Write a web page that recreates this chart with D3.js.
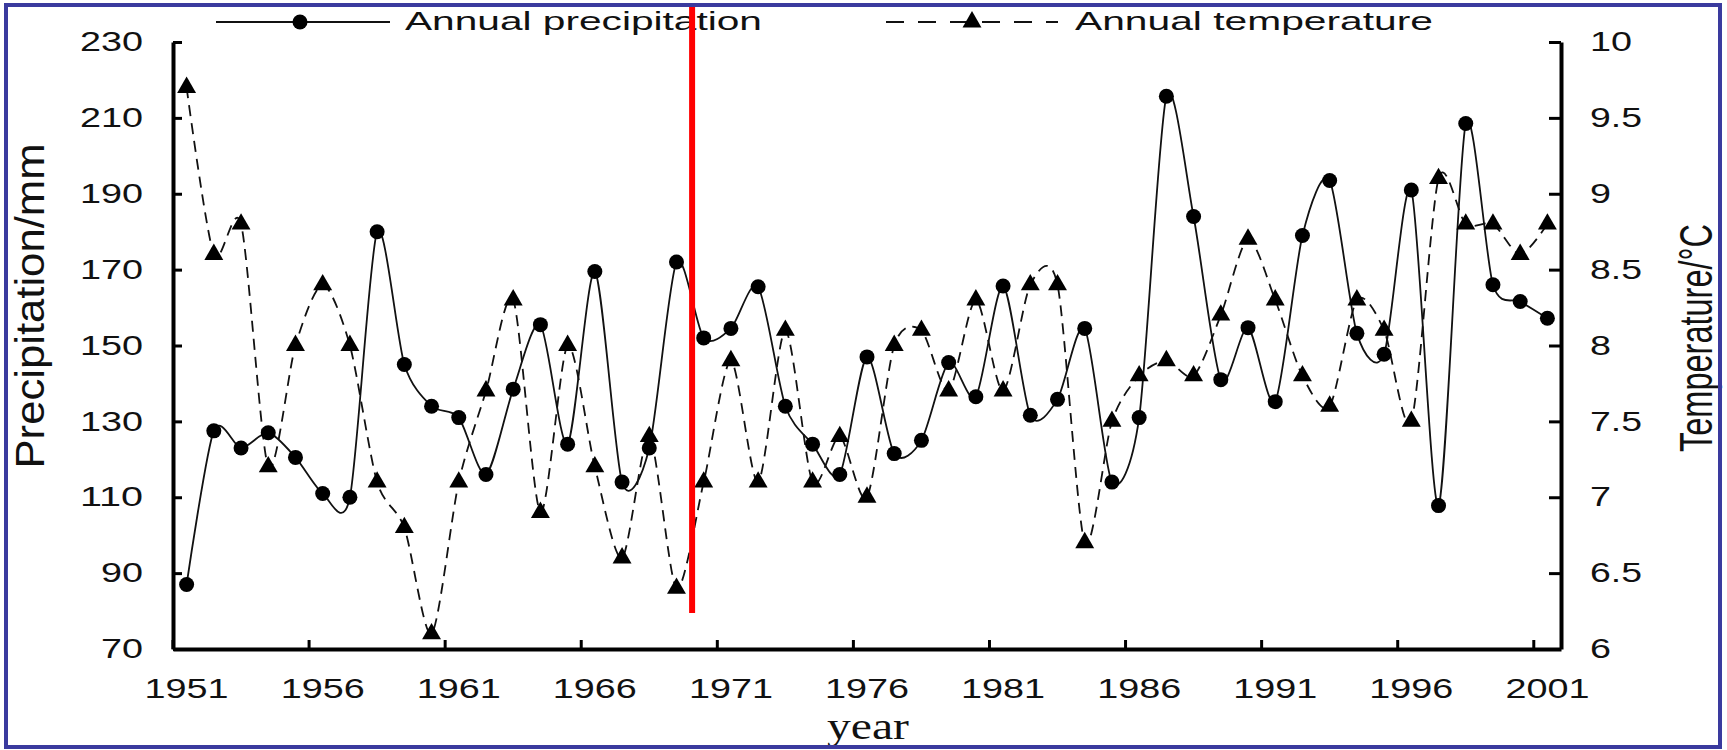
<!DOCTYPE html>
<html>
<head>
<meta charset="utf-8">
<script src="https://cdn.jsdelivr.net/npm/d3@7"></script>
<style>
  body { margin: 0; background: #fff; }
</style>
</head>
<body>
<div id="container"></div>
<script>
// window size
const cwW = 1727;
const cwH = 750;

// data
const years = ["1951","1952","1953","1954","1955","1956","1957","1958","1959","1960",
               "1961","1962","1963","1964","1965","1966","1967","1968","1969","1970",
               "1971","1972","1973","1974","1975","1976","1977","1978","1979","1980",
               "1981","1982","1983","1984","1985","1986","1987","1988","1989","1990",
               "1991","1992","1993","1994","1995","1996","1997","1998","1999","2000","2001"];
const precipitation = [87,127.5,123,127,120.5,111,110,180,145,134,
                       131,116,138.5,155.5,124,169.5,114,123,172,152,
                       154.5,165.5,134,124,116,147,121.5,125,145.5,136.5,
                       165.7,131.6,135.8,154.5,114,131,215.7,184,141,154.7,
                       135.2,179,193.5,153.2,147.7,191,107.8,208.5,166,161.6,157.2];
const temperature = [9.7,8.6,8.8,7.2,8.0,8.4,8.0,7.1,6.8,6.1,
                     7.1,7.7,8.3,6.9,8.0,7.2,6.6,7.4,6.4,7.1,
                     7.9,7.1,8.1,7.1,7.4,7.0,8.0,8.1,7.7,8.3,
                     7.7,8.4,8.4,6.7,7.5,7.8,7.9,7.8,8.2,8.7,
                     8.3,7.8,7.6,8.3,8.1,7.5,9.1,8.8,8.8,8.6,8.8];
const yearTicks = ["1951","1956","1961","1966","1971","1976","1981","1986","1991","1996","2001"];
const precipTicks = [70,90,110,130,150,170,190,210,230];
const tempTicks = [6,6.5,7,7.5,8,8.5,9,9.5,10];
const breakYear = "1970";

const sans = "'Liberation Sans', Arial, sans-serif";
const serif = "'Liberation Serif', 'Times New Roman', serif";

// plot box
const pLeft = 173, pRight = 1561, pTop = 42, pBottom = 649;

let svgArea = d3.select("#container").append("svg")
  .attr("width", cwW)
  .attr("height", cwH);

svgArea.append("rect").attr("width", cwW).attr("height", cwH).attr("fill", "#fff");

// scales
const x = d3.scaleBand().domain(years).range([pLeft, pRight]);
const bw = x.bandwidth();
const cx = d => x(d) + bw / 2;
const yP = d3.scaleLinear().domain([70, 230]).range([pBottom, pTop]);
const yT = d3.scaleLinear().domain([6, 10]).range([pBottom, pTop]);

// the labels in the picture are drawn wide, so stretch them to a width
function digitWidth(s) {
  let w = 0;
  for (const c of s) w += (c === "." ? 10 : 21);
  return w;
}

/**************************
* Axes
**************************/
let gx = svgArea.append("g")
  .attr("transform", `translate(0,${pBottom})`)
  .call(d3.axisBottom(x).tickValues(yearTicks).tickSize(-9).tickSizeOuter(0));
gx.selectAll(".tick line").attr("x1", -bw / 2).attr("x2", -bw / 2).attr("stroke-width", 3);
gx.selectAll(".tick text")
  .attr("y", 49).attr("dy", 0)
  .attr("textLength", d => digitWidth(d));

let gl = svgArea.append("g")
  .attr("transform", `translate(${pLeft},0)`)
  .call(d3.axisLeft(yP).tickValues(precipTicks).tickSize(-9).tickSizeOuter(0));
gl.selectAll(".tick line").attr("stroke-width", 3);
gl.selectAll(".tick text")
  .attr("x", -30)
  .attr("textLength", d => digitWidth(String(d)));

let gr = svgArea.append("g")
  .attr("transform", `translate(${pRight},0)`)
  .call(d3.axisRight(yT).tickValues(tempTicks).tickSize(-12).tickSizeOuter(0).tickFormat(d => String(d)));
gr.selectAll(".tick line").attr("stroke-width", 3);
gr.selectAll(".tick text")
  .attr("x", 29)
  .attr("textLength", d => digitWidth(String(d)));

svgArea.selectAll(".domain").attr("stroke", "#000").attr("stroke-width", 4);
svgArea.selectAll(".tick text")
  .attr("lengthAdjust", "spacingAndGlyphs")
  .style("font-family", sans)
  .style("font-size", "27px")
  .style("fill", "#111");

// axis titles
svgArea.append("text")
  .attr("transform", "translate(44,306) rotate(-90)")
  .attr("text-anchor", "middle")
  .style("font-family", sans).style("font-size", "40px").style("fill", "#111")
  .attr("textLength", 325)
  .attr("lengthAdjust", "spacingAndGlyphs")
  .text("Precipitation/mm");

svgArea.append("text")
  .attr("transform", "translate(1712,338) rotate(-90)")
  .attr("text-anchor", "middle")
  .style("font-family", sans).style("font-size", "46px").style("fill", "#111")
  .attr("textLength", 228)
  .attr("lengthAdjust", "spacingAndGlyphs")
  .text("Temperature/°C");

svgArea.append("text")
  .attr("x", 868).attr("y", 739)
  .attr("text-anchor", "middle")
  .style("font-family", serif).style("font-size", "37px").style("fill", "#111")
  .attr("textLength", 82)
  .attr("lengthAdjust", "spacingAndGlyphs")
  .text("year");

/**************************
* Lines
**************************/
const precipLine = d3.line()
  .x((d, i) => cx(years[i]))
  .y(d => yP(d))
  .curve(d3.curveCardinal.tension(0.2));
const tempLine = d3.line()
  .x((d, i) => cx(years[i]))
  .y(d => yT(d))
  .curve(d3.curveCardinal.tension(0.2));

svgArea.append("path")
  .datum(temperature)
  .attr("d", tempLine)
  .attr("fill", "none")
  .attr("stroke", "#111")
  .attr("stroke-width", 1.8)
  .attr("stroke-dasharray", "11,7");

svgArea.append("path")
  .datum(precipitation)
  .attr("d", precipLine)
  .attr("fill", "none")
  .attr("stroke", "#111")
  .attr("stroke-width", 1.8);

const tri = d3.symbol(d3.symbolTriangle, 155);

svgArea.append("g").selectAll("path")
  .data(temperature)
  .enter()
  .append("path")
  .attr("d", tri)
  .attr("transform", (d, i) => `translate(${cx(years[i])},${yT(d)})`)
  .attr("fill", "#000");

svgArea.append("g").selectAll("circle")
  .data(precipitation)
  .enter()
  .append("circle")
  .attr("cx", (d, i) => cx(years[i]))
  .attr("cy", d => yP(d))
  .attr("r", 7.5)
  .attr("fill", "#000");

/**************************
* Legend
**************************/
let lg = svgArea.append("g");
lg.append("line").attr("x1", 216).attr("x2", 390).attr("y1", 22).attr("y2", 22)
  .attr("stroke", "#111").attr("stroke-width", 2);
lg.append("circle").attr("cx", 300).attr("cy", 22).attr("r", 7.5).attr("fill", "#000");
lg.append("text").attr("x", 405).attr("y", 30)
  .style("font-family", sans).style("font-size", "26px").style("fill", "#111")
  .attr("textLength", 357).attr("lengthAdjust", "spacingAndGlyphs")
  .text("Annual precipitation");

lg.append("line").attr("x1", 886).attr("x2", 1058).attr("y1", 22).attr("y2", 22)
  .attr("stroke", "#111").attr("stroke-width", 2).attr("stroke-dasharray", "18,14");
lg.append("path").attr("d", tri).attr("transform", "translate(972,22)").attr("fill", "#000");
lg.append("text").attr("x", 1075).attr("y", 30)
  .style("font-family", sans).style("font-size", "26px").style("fill", "#111")
  .attr("textLength", 358).attr("lengthAdjust", "spacingAndGlyphs")
  .text("Annual temperature");

// red marker
svgArea.append("line")
  .attr("x1", x(breakYear) + 2).attr("x2", x(breakYear) + 2)
  .attr("y1", 6).attr("y2", 613)
  .attr("stroke", "#ff0000").attr("stroke-width", 6);

// frame
svgArea.append("rect")
  .attr("x", 6).attr("y", 5)
  .attr("width", 1714).attr("height", 742)
  .attr("fill", "none")
  .attr("stroke", "#3a3a9e")
  .attr("stroke-width", 4);
</script>
</body>
</html>
